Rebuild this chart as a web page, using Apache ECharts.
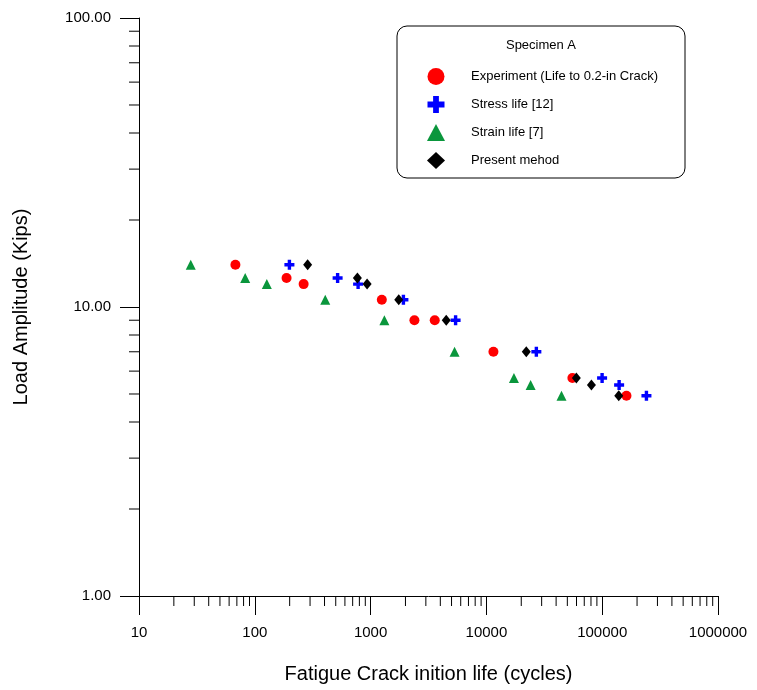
<!DOCTYPE html>
<html>
<head>
<meta charset="utf-8">
<script src="https://cdn.jsdelivr.net/npm/echarts@6/dist/echarts.min.js"></script>
<style>
  html, body { margin: 0; padding: 0; background: #fff; }
  #chart { width: 757px; height: 690px; }
</style>
</head>
<body>
<div id="chart"></div>
<script>
// [cycles, load]
const experiment = [[68, 14], [188, 12.6], [264, 12], [1250, 10.6], [2390, 9], [3580, 9], [11500, 7], [55300, 5.68], [162000, 4.93]];
const stressLife = [[199, 14], [519, 12.6], [780, 12], [1920, 10.6], [5420, 9], [27000, 7], [99800, 5.68], [140000, 5.37], [241000, 4.93]];
const strainLife = [[28, 14], [82.6, 12.6], [127, 12], [406, 10.6], [1315, 9], [5310, 7], [17300, 5.68], [24100, 5.37], [44500, 4.93]];
const present = [[286, 14], [769, 12.6], [933, 12], [1750, 10.6], [4500, 9], [22100, 7], [59800, 5.68], [80700, 5.37], [139000, 4.93]];

const xDecades = [10, 100, 1000, 10000, 100000];
const yDecades = [1, 10];
const minorSteps = [2, 3, 4, 5, 6, 7, 8, 9];

const plusPath = 'path://M3.3,0H6.7V3.3H10V6.7H6.7V10H3.3V6.7H0V3.3H3.3Z';
const font = 'Arial, "Liberation Sans", sans-serif';

const chart = echarts.init(document.getElementById('chart'));

const option = {
  animation: false,
  grid: { left: 139, right: 39, top: 18, bottom: 94 },
  legend: {
    orient: 'vertical',
    left: 422,
    top: 63,
    itemWidth: 18,
    itemHeight: 17,
    itemGap: 11,
    z: 10,
    textStyle: { fontFamily: font, fontSize: 13, color: '#000', padding: [0, 0, 0, 21] },
    data: ['Experiment (Life to 0.2-in Crack)', 'Stress life [12]', 'Strain life [7]', 'Present mehod']
  },
  xAxis: {
    type: 'log',
    logBase: 10,
    min: 10,
    max: 1000000,
    name: 'Fatigue Crack inition life (cycles)',
    nameLocation: 'middle',
    nameGap: 68,
    nameTextStyle: { fontFamily: font, fontSize: 20, color: '#000' },
    axisLine: { lineStyle: { color: '#000', width: 1 } },
    axisTick: { length: 19, lineStyle: { color: '#000' } },
    axisLabel: {
      margin: 29,
      fontFamily: font, fontSize: 15, color: '#000',
      formatter: v => String(Math.round(v))
    },
    splitLine: { show: false }
  },
  yAxis: {
    type: 'log',
    logBase: 10,
    min: 1,
    max: 100,
    name: 'Load Amplitude (Kips)',
    nameLocation: 'middle',
    nameGap: 108,
    nameTextStyle: { fontFamily: font, fontSize: 20, color: '#000' },
    axisLine: { lineStyle: { color: '#000', width: 1 } },
    axisTick: { length: 19, lineStyle: { color: '#000' } },
    axisLabel: {
      margin: 28,
      fontFamily: font, fontSize: 15, color: '#000',
      formatter: v => v.toFixed(2)
    },
    splitLine: { show: false }
  },
  series: [
    {
      name: 'Experiment (Life to 0.2-in Crack)',
      type: 'scatter',
      data: experiment,
      symbol: 'circle',
      symbolSize: 10,
      itemStyle: { color: '#ff0000', opacity: 1 }
    },
    {
      name: 'Stress life [12]',
      type: 'scatter',
      data: stressLife,
      symbol: plusPath,
      symbolSize: 10,
      itemStyle: { color: '#0000ff', opacity: 1 }
    },
    {
      name: 'Strain life [7]',
      type: 'scatter',
      data: strainLife,
      symbol: 'triangle',
      symbolSize: 10,
      itemStyle: { color: '#0a963c', opacity: 1 }
    },
    {
      name: 'Present mehod',
      type: 'scatter',
      data: present,
      symbol: 'diamond',
      symbolSize: [9, 11],
      itemStyle: { color: '#000', opacity: 1 }
    }
  ]
};
chart.setOption(option);

// legend box, its title and the minor ticks of both log axes (placed through the axis scales)
const graphics = [
  {
    type: 'rect', z: 0,
    shape: { x: 397, y: 26, width: 288, height: 152, r: 10 },
    style: { fill: '#fff', stroke: '#000', lineWidth: 1 }
  },
  {
    type: 'text', z: 1,
    x: 541, y: 45,
    style: { text: 'Specimen A', fontFamily: font, fontSize: 13, fill: '#000', align: 'center', verticalAlign: 'middle' }
  }
];
const axisY = chart.convertToPixel({ yAxisIndex: 0 }, 1);
const axisX = chart.convertToPixel({ xAxisIndex: 0 }, 10);
xDecades.forEach(d => {
  minorSteps.forEach(m => {
    const px = chart.convertToPixel({ xAxisIndex: 0 }, d * m);
    graphics.push({
      type: 'line', z: 1,
      shape: { x1: px, y1: axisY, x2: px, y2: axisY + 10 },
      style: { stroke: '#000', lineWidth: 1 }
    });
  });
});
yDecades.forEach(d => {
  minorSteps.forEach(m => {
    const py = chart.convertToPixel({ yAxisIndex: 0 }, d * m);
    graphics.push({
      type: 'line', z: 1,
      shape: { x1: axisX - 10, y1: py, x2: axisX, y2: py },
      style: { stroke: '#000', lineWidth: 1 }
    });
  });
});
chart.setOption({ graphic: graphics });
</script>
</body>
</html>
